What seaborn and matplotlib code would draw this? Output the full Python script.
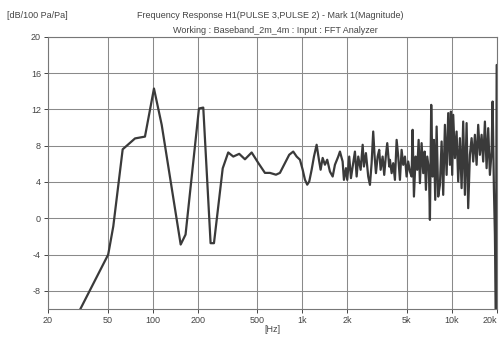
import numpy as np
import seaborn as sns
import matplotlib.pyplot as plt
from matplotlib.ticker import FixedLocator, NullLocator

# frequency response (Hz, dB)
freq_low = [32, 50.5, 54.6, 63.1, 76.3, 88.9, 102.1, 115, 154, 166, 204, 218,
            244, 257, 294, 320, 346, 379, 414, 459, 508, 563, 608, 667, 709,
            818, 870, 917, 965, 1006, 1042, 1079, 1113, 1155, 1197, 1247,
            1292, 1326, 1368, 1417, 1468, 1530, 1596, 1653, 1739]
db_low = [-10.4, -4.0, -0.9, 7.6, 8.8, 9.0, 14.3, 10.3, -2.9, -1.8, 12.1, 12.2,
          -2.75, -2.75, 5.5, 7.25, 6.8, 7.1, 6.5, 7.25, 6.1, 5.0, 5.0, 4.8, 5.0,
          7.0, 7.35, 6.8, 6.45, 5.35, 4.25, 3.7, 4.05, 5.35, 6.8, 8.1,
          6.45, 5.35, 6.65, 5.9, 6.45, 5.15, 4.6, 5.9, 6.8]

freq_mid = [1785, 1860, 1898, 1958, 1997, 2059, 2114, 2170, 2248, 2308, 2366,
            2454, 2532, 2582, 2662, 2758, 2832, 2906, 2978, 3044, 3106, 3188,
            3266, 3338, 3442, 3528, 3622, 3696, 3810, 3852, 3954, 4052, 4160,
            4270, 4376, 4492, 4610, 4726, 4852, 4978, 5102, 5238, 5376, 5460,
            5572, 5718, 5862, 5990, 6110, 6270, 6428, 6570, 6702, 6836, 7018,
            7126, 7270, 7428, 7578, 7732, 7900, 8096]
db_mid = [7.35, 6.25, 4.23, 5.52, 4.23, 6.8, 4.42, 5.7, 7.35, 4.6, 6.8,
          5.34, 8.1, 5.7, 7.18, 4.6, 3.68, 6.07, 9.56, 6.8, 4.97, 6.8,
          7.54, 5.34, 6.8, 4.78, 6.99, 8.28, 5.7, 6.44, 4.97, 6.07, 4.23,
          8.64, 6.8, 4.23, 7.54, 5.89, 6.8, 4.6, 6.25, 5.15, 4.6, 9.75,
          2.39, 6.8, 5.34, 8.64, 3.87, 8.28, 4.97, 7.35, 3.13, 6.8, 5.34,
          -0.18, 12.5, 4.6, 8.64, 2.03, 10.11, 2.39]

freq_high = [8310, 8530, 8742, 8974, 9212, 9442, 9692, 9840, 10040, 10196,
             10466, 10742, 11010, 11302, 11600, 11890, 12206, 12528, 12840,
             13182, 13530, 13868, 14236, 14612, 14976, 15374, 15780, 16174,
             16604, 17042, 17468, 17932, 18406, 18692, 19070, 19366, 19666,
             19900]
db_high = [3.68, 8.46, 2.58, 10.3, 4.78, 11.59, 5.89, 11.76, 4.78, 11.4,
           6.63, 9.56, 4.05, 8.83, 3.32, 10.66, 2.58, 10.49, 1.11,
           6.99, 8.83, 6.25, 9.2, 5.89, 10.3, 6.99, 9.2, 6.25,
           10.66, 5.52, 9.93, 4.78, 7.35, 12.87, 3.32, -1.83, -11.0,
           16.9]

freq = freq_low + freq_mid + freq_high
db = db_low + db_mid + db_high

x_ticks = [20, 50, 100, 200, 500, 1000, 2000, 5000, 10000, 20000]
x_labels = ['20', '50', '100', '200', '500', '1k', '2k', '5k', '10k', '20k']
y_ticks = [-8, -4, 0, 4, 8, 12, 16, 20]

sns.set_style("whitegrid")
plt.rcParams['font.family'] = ['Liberation Sans', 'DejaVu Sans']

fig = plt.figure(figsize=(5, 3.38), dpi=100)
ax = fig.add_axes([0.096, 0.086, 0.898, 0.805])

sns.lineplot(x=freq, y=db, sort=False, estimator=None, color='#3a3a3a',
             linewidth=1.6, ax=ax)

ax.set_xscale('log')
ax.set_xlim(20, 20000)
ax.set_ylim(-10, 20)
ax.xaxis.set_major_locator(FixedLocator(x_ticks))
ax.xaxis.set_minor_locator(NullLocator())
ax.set_xticklabels(x_labels)
ax.set_yticks(y_ticks)
ax.set_yticklabels([str(v) for v in y_ticks])
ax.tick_params(labelsize=6.5, colors='#444444', length=3, width=0.7,
               direction='out', pad=2, bottom=True, left=True)
ax.get_xticklabels()[-1].set_horizontalalignment('right')
ax.grid(True, color='#8a8a8a', linewidth=0.75)
for s in ax.spines.values():
    s.set_color('#777777')
    s.set_linewidth(0.8)

ax.set_xlabel('[Hz]', fontsize=6.5, color='#444444', labelpad=0)
ax.set_ylabel('')

fig.text(0.014, 0.955, '[dB/100 Pa/Pa]', fontsize=6.5, color='#444444',
         va='center')
fig.text(0.54, 0.955, 'Frequency Response H1(PULSE 3,PULSE 2) - Mark 1(Magnitude)',
         fontsize=6.5, color='#444444', ha='center', va='center')
fig.text(0.55, 0.91, 'Working : Baseband_2m_4m : Input : FFT Analyzer',
         fontsize=6.5, color='#444444', ha='center', va='center')

fig.savefig('out.png', dpi=100)
